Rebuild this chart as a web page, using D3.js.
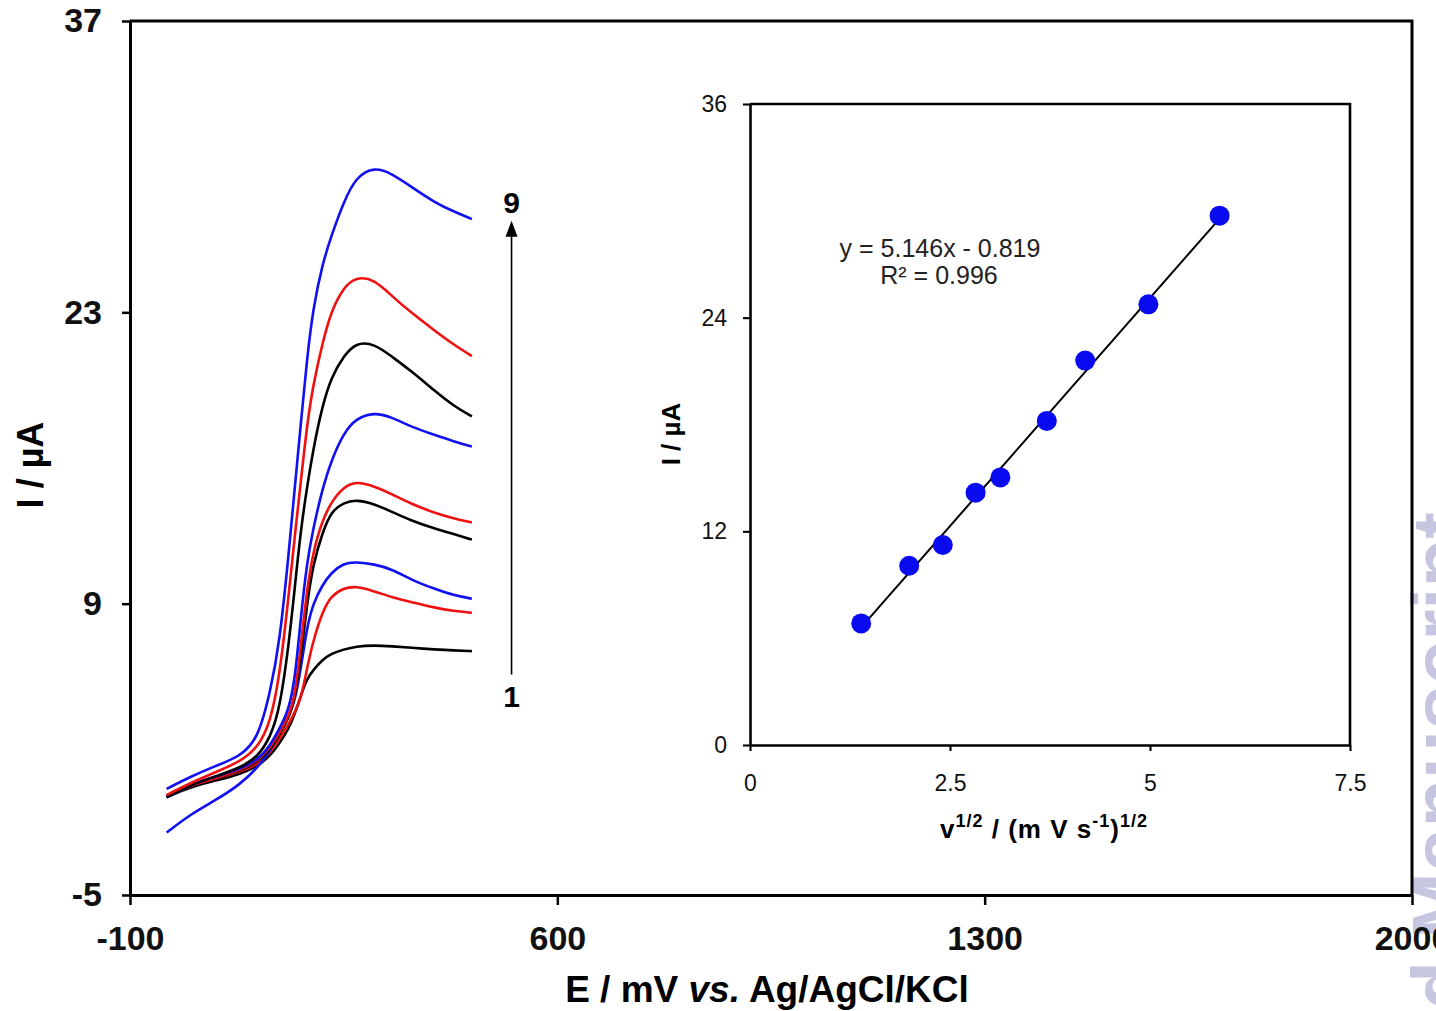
<!DOCTYPE html>
<html>
<head>
<meta charset="utf-8">
<script src="https://cdn.jsdelivr.net/npm/d3@7"></script>
<style>
  body { margin: 0; background: #fff; }
  svg { display: block; }
</style>
</head>
<body>
<div id="chart"></div>
<script>

// main plot: linear sweeps, E in mV and I in uA
var potentials = [-40, 0, 40, 80, 110, 130, 145, 160, 170, 180, 190, 200, 215, 230, 250, 270, 300, 330, 360, 400, 430, 460];

var current1 = [-0.3, 0.2, 0.5, 0.8, 1.2, 1.7, 2.3, 3.0, 3.7, 4.6, 5.4, 5.8, 6.3, 6.6, 6.8, 6.95, 7.0, 6.95, 6.88, 6.8, 6.75, 6.72];
var current2 = [-0.2, 0.3, 0.6, 0.9, 1.3, 1.85, 2.5, 3.2, 3.8, 4.4, 5.9, 7.2, 8.6, 9.4, 9.75, 9.84, 9.6, 9.3, 9.08, 8.8, 8.65, 8.56];
var current3 = [-2.0, -1.1, -0.45, 0.3, 1.15, 1.95, 2.8, 3.6, 4.3, 5.9, 7.9, 9.0, 9.9, 10.5, 10.95, 11.0, 10.9, 10.65, 10.15, 9.7, 9.4, 9.24];
var current4 = [-0.3, 0.3, 0.6, 0.95, 1.4, 2.0, 2.7, 3.5, 4.4, 6.4, 9.0, 10.9, 12.4, 13.45, 13.85, 14.0, 13.8, 13.4, 13.0, 12.6, 12.35, 12.08];
var current5 = [-0.3, 0.3, 0.6, 1.0, 1.45, 2.1, 2.8, 3.6, 4.5, 7.0, 9.7, 11.5, 13.0, 13.9, 14.6, 14.88, 14.65, 14.25, 13.8, 13.35, 13.1, 12.9];
var current6 = [-0.3, 0.3, 0.7, 1.05, 1.5, 2.2, 3.0, 3.9, 5.3, 8.4, 11.0, 12.6, 14.5, 15.9, 17.2, 17.9, 18.2, 17.95, 17.5, 17.1, 16.8, 16.55];
var current7 = [-0.3, 0.3, 0.7, 1.1, 1.65, 2.6, 3.9, 7.0, 9.8, 12.6, 14.6, 16.4, 18.5, 19.9, 20.9, 21.55, 21.5, 20.85, 20.2, 19.2, 18.5, 18.0];
var current8 = [-0.2, 0.4, 0.9, 1.4, 2.1, 3.3, 5.5, 9.4, 12.3, 14.9, 17.6, 19.5, 21.5, 23.1, 24.2, 24.7, 24.6, 23.75, 23.0, 22.1, 21.45, 20.9];
var current9 = [0.1, 0.7, 1.2, 1.65, 2.5, 4.8, 7.1, 11.4, 14.6, 17.7, 20.8, 23.2, 25.3, 26.7, 28.3, 29.5, 30.0, 29.65, 29.05, 28.26, 27.85, 27.48];

var mainXTicks = [-100, 600, 1300, 2000];
var mainYTicks = [-5, 9, 23, 37];

// inset: peak current vs square root of scan rate
var sqrtScanRate = [1.39, 1.99, 2.41, 2.82, 3.13, 3.71, 4.19, 4.98, 5.87];
var peakCurrent = [6.83, 10.07, 11.23, 14.17, 15.03, 18.2, 21.59, 24.75, 29.73];

var insetXTicks = [0, 2.5, 5, 7.5];
var insetYTicks = [0, 12, 24, 36];


var W = 1436;
var H = 1011;
var sansFont = "'Liberation Sans', Arial, sans-serif";

var svg = d3.select("#chart")
    .append("svg")
    .attr("width", W)
    .attr("height", H);

// watermark first, so it sits under everything
svg.append("text")
    .attr("transform", "translate(1468,512) rotate(-90)")
    .attr("text-anchor", "end")
    .style("font-family", sansFont)
    .style("font-weight", "bold")
    .style("font-size", "80px")
    .style("fill", "#c6c6e0")
    .text("Accepted Manuscript");

var x = d3.scaleLinear().domain([-100, 2000]).range([130, 1412]);
var y = d3.scaleLinear().domain([-5, 37]).range([895, 21]);

function plain(d) { return String(d); }

function styleAxis(g, size, weight, lineW) {
    g.attr("font-family", sansFont).attr("font-size", size);
    g.selectAll("text").style("font-weight", weight).style("fill", "#111");
    g.select(".domain").attr("stroke-width", lineW).attr("stroke", "#000");
    g.selectAll(".tick line").attr("stroke-width", lineW - 0.5).attr("stroke", "#000");
}

svg.append("g")
    .attr("transform", "translate(0," + y(-5) + ")")
    .call(d3.axisBottom(x).tickValues(mainXTicks).tickFormat(plain)
        .tickSizeInner(10).tickSizeOuter(0).tickPadding(21))
    .call(styleAxis, 34, "bold", 3);

svg.append("g")
    .attr("transform", "translate(" + x(-100) + ",0)")
    .call(d3.axisLeft(y).tickValues(mainYTicks).tickFormat(plain)
        .tickSizeInner(8).tickSizeOuter(0).tickPadding(20))
    .call(styleAxis, 34, "bold", 3);

// top and right edges of the frame
svg.append("path")
    .attr("d", "M" + x(-100) + "," + y(37) + "H" + x(2000) + "V" + y(-5))
    .attr("fill", "none")
    .attr("stroke", "#000")
    .attr("stroke-width", 3);

var sweeps = [current1, current2, current3, current4, current5, current6, current7, current8, current9];
var sweepColors = ["#000000", "#f01010", "#1010f0"];

var sweepLine = d3.line()
    .curve(d3.curveBasis)
    .x(function(d, i) { return x(potentials[i]); })
    .y(function(d) { return y(d); });

svg.selectAll(".sweep")
    .data(sweeps).enter()
    .append("path")
    .attr("class", "sweep")
    .attr("d", sweepLine)
    .attr("fill", "none")
    .attr("stroke", function(d, i) { return sweepColors[i % 3]; })
    .attr("stroke-width", 2.6)
    .attr("stroke-linejoin", "round");

// arrow 1 -> 9
var arrowE = 525;
var arrowLow = 5.6;
var arrowHigh = 27.4;

svg.append("line")
    .attr("x1", x(arrowE)).attr("x2", x(arrowE))
    .attr("y1", y(arrowLow)).attr("y2", y(arrowHigh) + 12)
    .attr("stroke", "#000")
    .attr("stroke-width", 1.6);

svg.append("path")
    .attr("d", "M" + x(arrowE) + "," + y(arrowHigh) + "l-6,16h12z")
    .attr("fill", "#000");

svg.append("text")
    .attr("x", x(arrowE))
    .attr("y", y(arrowHigh) - 8)
    .attr("text-anchor", "middle")
    .style("font-family", sansFont)
    .style("font-weight", "bold")
    .style("font-size", "30px")
    .text("9");

svg.append("text")
    .attr("x", x(arrowE))
    .attr("y", y(arrowLow) + 33)
    .attr("text-anchor", "middle")
    .style("font-family", sansFont)
    .style("font-weight", "bold")
    .style("font-size", "30px")
    .text("1");

// axis titles
svg.append("text")
    .attr("transform", "translate(43,465) rotate(-90)")
    .attr("text-anchor", "middle")
    .style("font-family", sansFont)
    .style("font-weight", "bold")
    .style("font-size", "36px")
    .text("I / \u00b5A");

var xTitle = svg.append("text")
    .attr("x", 767)
    .attr("y", 1002)
    .attr("text-anchor", "middle")
    .style("font-family", sansFont)
    .style("font-weight", "bold")
    .style("font-size", "37px");
xTitle.append("tspan").text("E / mV ");
xTitle.append("tspan").style("font-style", "italic").text("vs.");
xTitle.append("tspan").text(" Ag/AgCl/KCl");


// ---- inset ----
var ix = d3.scaleLinear().domain([0, 7.5]).range([750, 1350]);
var iy = d3.scaleLinear().domain([0, 36]).range([745, 104]);

svg.append("rect")
    .attr("x", ix(0)).attr("y", iy(36))
    .attr("width", ix(7.5) - ix(0)).attr("height", iy(0) - iy(36))
    .attr("fill", "#fff");

svg.append("g")
    .attr("transform", "translate(0," + iy(0) + ")")
    .call(d3.axisBottom(ix).tickValues(insetXTicks).tickFormat(plain)
        .tickSizeInner(6).tickSizeOuter(0).tickPadding(24))
    .call(styleAxis, 23, "normal", 2.6);

svg.append("g")
    .attr("transform", "translate(" + ix(0) + ",0)")
    .call(d3.axisLeft(iy).tickValues(insetYTicks).tickFormat(plain)
        .tickSizeInner(7).tickSizeOuter(0).tickPadding(16))
    .call(styleAxis, 23, "normal", 2.6);

svg.append("path")
    .attr("d", "M" + ix(0) + "," + iy(36) + "H" + ix(7.5) + "V" + iy(0))
    .attr("fill", "none")
    .attr("stroke", "#000")
    .attr("stroke-width", 2.6);

// least squares line through the points
var mx = d3.mean(sqrtScanRate);
var my = d3.mean(peakCurrent);
var sxy = d3.sum(sqrtScanRate, function(v, i) { return (v - mx) * (peakCurrent[i] - my); });
var sxx = d3.sum(sqrtScanRate, function(v) { return (v - mx) * (v - mx); });
var slope = sxy / sxx;
var intercept = my - slope * mx;
var fitX = d3.extent(sqrtScanRate);

svg.append("line")
    .attr("x1", ix(fitX[0])).attr("y1", iy(slope * fitX[0] + intercept))
    .attr("x2", ix(fitX[1])).attr("y2", iy(slope * fitX[1] + intercept))
    .attr("stroke", "#000")
    .attr("stroke-width", 2);

svg.selectAll(".pt")
    .data(sqrtScanRate).enter()
    .append("circle")
    .attr("class", "pt")
    .attr("cx", function(d) { return ix(d); })
    .attr("cy", function(d, i) { return iy(peakCurrent[i]); })
    .attr("r", 10)
    .attr("fill", "#0a0af0");

svg.append("text")
    .attr("x", 940).attr("y", 257)
    .attr("text-anchor", "middle")
    .style("font-family", sansFont)
    .style("font-size", "25px")
    .style("fill", "#222")
    .text("y = 5.146x - 0.819");

svg.append("text")
    .attr("x", 939).attr("y", 284)
    .attr("text-anchor", "middle")
    .style("font-family", sansFont)
    .style("font-size", "25px")
    .style("fill", "#222")
    .text("R\u00b2 = 0.996");

svg.append("text")
    .attr("transform", "translate(680,434) rotate(-90)")
    .attr("text-anchor", "middle")
    .style("font-family", sansFont)
    .style("font-weight", "bold")
    .style("font-size", "26px")
    .text("I / \u00b5A");

var iTitle = svg.append("text")
    .attr("x", 1044)
    .attr("y", 838)
    .attr("text-anchor", "middle")
    .style("font-family", sansFont)
    .style("font-weight", "bold")
    .style("font-size", "26px")
    .style("letter-spacing", "1px");
iTitle.append("tspan").text("v");
iTitle.append("tspan").attr("dy", -11).style("font-size", "18px").text("1/2");
iTitle.append("tspan").attr("dy", 11).text(" / (m V s");
iTitle.append("tspan").attr("dy", -11).style("font-size", "18px").text("-1");
iTitle.append("tspan").attr("dy", 11).text(")");
iTitle.append("tspan").attr("dy", -11).style("font-size", "18px").text("1/2");

</script>
</body>
</html>
